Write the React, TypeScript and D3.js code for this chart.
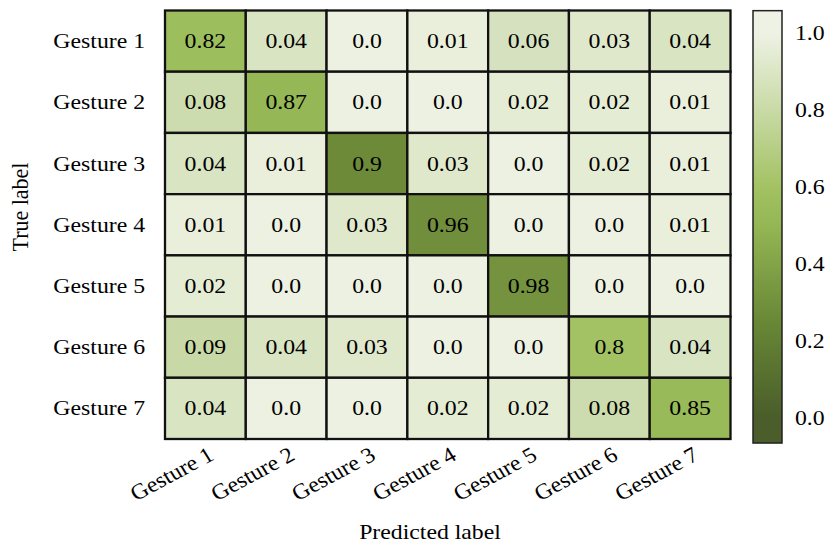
import React from "react";
import * as d3 from "d3";

const trueLabels = ["Gesture 1", "Gesture 2", "Gesture 3", "Gesture 4", "Gesture 5", "Gesture 6", "Gesture 7"];
const predLabels = ["Gesture 1", "Gesture 2", "Gesture 3", "Gesture 4", "Gesture 5", "Gesture 6", "Gesture 7"];
const row1 = ["0.82", "0.04", "0.0", "0.01", "0.06", "0.03", "0.04"];
const row2 = ["0.08", "0.87", "0.0", "0.0", "0.02", "0.02", "0.01"];
const row3 = ["0.04", "0.01", "0.9", "0.03", "0.0", "0.02", "0.01"];
const row4 = ["0.01", "0.0", "0.03", "0.96", "0.0", "0.0", "0.01"];
const row5 = ["0.02", "0.0", "0.0", "0.0", "0.98", "0.0", "0.0"];
const row6 = ["0.09", "0.04", "0.03", "0.0", "0.0", "0.8", "0.04"];
const row7 = ["0.04", "0.0", "0.0", "0.02", "0.02", "0.08", "0.85"];
const matrix = [row1, row2, row3, row4, row5, row6, row7];
const colorbarTicks = [0.0, 0.2, 0.4, 0.6, 0.8, 1.0];

// colour scale for cells (as rendered in the reference)
const cellColor = d3
  .scaleLinear<string>()
  .domain([0, 0.01, 0.03, 0.04, 0.06, 0.09, 0.8, 0.82, 0.87, 0.9, 0.96, 0.98])
  .range(["#edf1e2", "#eaefdc", "#dfe8cb", "#d9e4c2", "#d6e2bf", "#c8d9a7", "#a3c263", "#9dbe5d", "#95b755", "#6c8a38", "#708e3c", "#75923f"])
  .clamp(true);

// colorbar gradient stops (t = colorbar value)
const gradStops = [
  { t: 0, c: "#4a5d2a" },
  { t: 0.25, c: "#688836" },
  { t: 0.5, c: "#94b654" },
  { t: 0.6, c: "#a3c263" },
  { t: 0.8, c: "#c9daa6" },
  { t: 1, c: "#eef2e4" },
];

const W = 831;
const H = 545;
const SX = 1.08; // horizontal stretch of the text glyphs
const FONT = "'Liberation Serif', 'Times New Roman', Times, serif";
const FS = 22;

export default function App() {
  const x = d3.scaleBand<string>().domain(predLabels.map((_, i) => String(i))).range([165, 730.5]);
  const y = d3.scaleBand<string>().domain(trueLabels.map((_, i) => String(i))).range([10.5, 439]);
  const cbY = d3.scaleLinear().domain([0, 1]).range([418, 33]);
  const cbTop = cbY(1.058);
  const cbBot = cbY(-0.065);

  const T = (props: { x: number; y: number; rot?: number; anchor?: string; children: React.ReactNode }) => (
    <text
      transform={`translate(${props.x},${props.y}) scale(${SX},1)${props.rot ? ` rotate(${props.rot})` : ""}`}
      textAnchor={props.anchor || "start"}
      fontFamily={FONT}
      fontSize={FS}
      fill="#000"
    >
      {props.children}
    </text>
  );

  return (
    <svg width={W} height={H} style={{ position: "absolute", left: 0, top: 0, background: "#fff" }}>
      <defs>
        <linearGradient id="cb" x1="0" x2="0" y1={cbY(0)} y2={cbY(1)} gradientUnits="userSpaceOnUse">
          {gradStops.map((s, i) => (
            <stop key={i} offset={s.t} stopColor={s.c} />
          ))}
        </linearGradient>
      </defs>

      {matrix.map((row, ri) =>
        row.map((v, ci) => (
          <g key={`${ri}-${ci}`}>
            <rect
              x={x(String(ci))!}
              y={y(String(ri))!}
              width={x.bandwidth()}
              height={y.bandwidth()}
              fill={cellColor(+v)}
              stroke="#111"
              strokeWidth={2.3}
            />
            <T x={x(String(ci))! + x.bandwidth() / 2} y={y(String(ri))! + y.bandwidth() / 2 + 7} anchor="middle">
              {v}
            </T>
          </g>
        ))
      )}

      {trueLabels.map((l, i) => (
        <T key={l} x={145} y={y(String(i))! + y.bandwidth() / 2 + 7} anchor="end">
          {l}
        </T>
      ))}

      {predLabels.map((l, i) => (
        <T key={l} x={x(String(i))! + x.bandwidth() / 2 + 10} y={459} anchor="end" rot={-30}>
          {l}
        </T>
      ))}

      <T x={28} y={207} anchor="middle" rot={-90}>
        True label
      </T>
      <T x={430} y={539} anchor="middle">
        Predicted label
      </T>

      <rect x={753} y={cbTop} width={29} height={cbBot - cbTop} fill="url(#cb)" stroke="#222" strokeWidth={1.5} />
      {colorbarTicks.map((t) => (
        <T key={t} x={795} y={cbY(t) + 7}>
          {t.toFixed(1)}
        </T>
      ))}
    </svg>
  );
}
